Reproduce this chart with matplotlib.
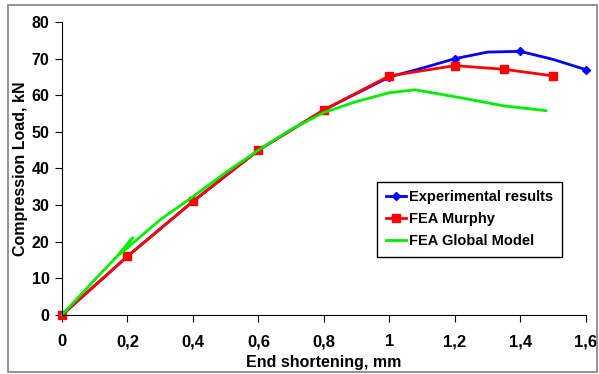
import matplotlib.pyplot as plt
from matplotlib.patches import Rectangle

plt.rcParams['font.family'] = ['Liberation Sans', 'DejaVu Sans']
plt.rcParams['font.weight'] = 'bold'

# Experimental results (markers at the measured points)
exp_x = [0, 0.2, 0.4, 0.6, 0.8, 1.0, 1.1, 1.2, 1.3, 1.4, 1.5, 1.6]
exp_y = [0, 16, 31, 45, 56, 65, 67.4, 70, 71.8, 72, 69.8, 67]
exp_marks = [0, 1, 2, 3, 4, 5, 7, 9, 11]

# FEA Murphy
mur_x = [0, 0.2, 0.4, 0.6, 0.8, 1.0, 1.2, 1.35, 1.5]
mur_y = [0, 16, 31, 45, 56, 65.3, 68.1, 67.1, 65.3]

# FEA Global Model
glb_x = [0, 0.1, 0.167, 0.216, 0.177, 0.3, 0.4, 0.5, 0.6, 0.7, 0.8, 0.9, 1.0, 1.078, 1.2, 1.35, 1.478]
glb_y = [0, 9.6, 15.9, 21.1, 16.6, 26.0, 32.3, 38.9, 45.0, 50.7, 55.3, 58.3, 60.7, 61.5, 59.6, 57.1, 55.8]

xticks = [0, 0.2, 0.4, 0.6, 0.8, 1.0, 1.2, 1.4, 1.6]
xtick_labels = ['0', '0,2', '0,4', '0,6', '0,8', '1', '1,2', '1,4', '1,6']
yticks = [0, 10, 20, 30, 40, 50, 60, 70, 80]

fig = plt.figure(figsize=(5.99, 3.74), dpi=100)
ax = fig.add_axes([0.1035, 0.158, 0.8745, 0.783])

ax.plot(exp_x, exp_y, color='#0000ff', lw=2, marker='D', ms=4,
        markevery=exp_marks, label='Experimental results')
ax.plot(mur_x, mur_y, color='#ff0000', lw=2, marker='s', ms=6,
        label='FEA Murphy')
ax.plot(glb_x, glb_y, color='#00ee00', lw=2, label='FEA Global Model')

ax.set_xlim(0, 1.6)
ax.set_ylim(0, 80)
ax.set_xticks(xticks)
ax.set_xticklabels(xtick_labels)
ax.set_yticks(yticks)
ax.tick_params(labelsize=12, direction='out', length=5, color='black')
ax.tick_params(axis='x', pad=9)
ax.tick_params(axis='y', pad=4, labelsize=11.5)
for lab in ax.get_xticklabels() + ax.get_yticklabels():
    lab.set_fontweight('bold')
ax.spines['top'].set_visible(False)
ax.spines['right'].set_visible(False)
ax.set_xlabel('End shortening, mm', fontsize=11.5, fontweight='bold', labelpad=4)
ax.set_ylabel('Compression Load, kN', fontsize=11.5, fontweight='bold')
ax.yaxis.set_label_coords(-0.064, 0.5)
for ln in ax.lines:
    ln.set_clip_on(False)

leg = ax.legend(loc='upper left', bbox_to_anchor=(0.601, 0.455), fontsize=10.5,
                frameon=True, fancybox=False, framealpha=1, edgecolor='black',
                handlelength=1.4, handletextpad=0.2, borderpad=0.6, labelspacing=0.55,
                borderaxespad=0)
leg.get_frame().set_linewidth(1)
for t in leg.get_texts():
    t.set_fontweight('bold')

fig.patches.append(Rectangle((0.013, 0.005), 0.984, 0.982, transform=fig.transFigure,
                             fill=False, edgecolor='#808080', lw=1.2))

fig.savefig('out.png', dpi=100)
